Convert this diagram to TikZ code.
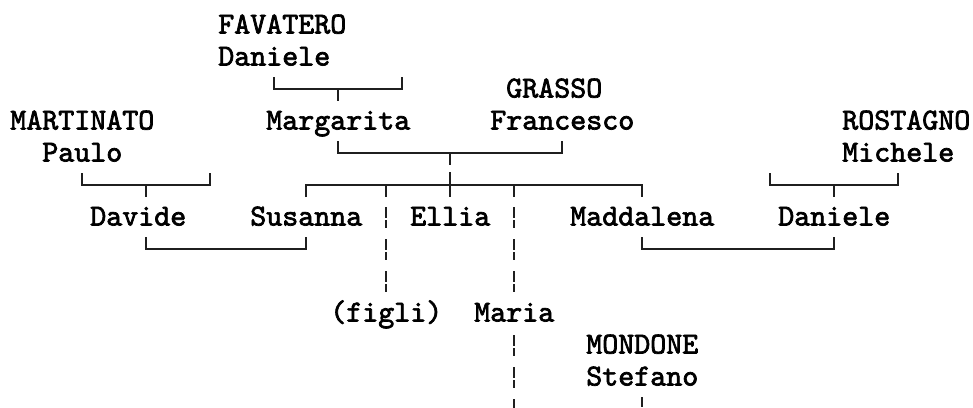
\documentclass[tikz,border=0pt]{standalone}
\usepackage{fontspec}
\newfontfamily\treefont{lmmono10-regular.otf}[FakeBold=2.3]
\begin{document}
\begin{tikzpicture}[x=0.75pt,y=-0.75pt,
  person/.style={anchor=base west, inner sep=0pt, text=black,
    font=\treefont\fontsize{22.86}{27}\selectfont},
  link/.style={line width=1.5pt, draw=black!88}]
\useasboundingbox (0,0) rectangle (973,407);
% people
\node[person] (favatero)  at (218,33.5)  {FAVATERO};
\node[person] (danieleF)  at (218,65.5)  {Daniele};
\node[person] (grasso)    at (506,97.5)  {GRASSO};
\node[person] (martinato) at (10,129.5)  {MARTINATO};
\node[person] (margarita) at (266,129.5) {Margarita};
\node[person] (francesco) at (490,129.5) {Francesco};
\node[person] (rostagno)  at (842,129.5) {ROSTAGNO};
\node[person] (paulo)     at (42,161.5)  {Paulo};
\node[person] (michele)   at (842,161.5) {Michele};
\node[person] (davide)    at (90,225.5)  {Davide};
\node[person] (susanna)   at (250,225.5) {Susanna};
\node[person] (ellia)     at (410,225.5) {Ellia};
\node[person] (maddalena) at (570,225.5) {Maddalena};
\node[person] (danieleR)  at (778,225.5) {Daniele};
\node[person] (figli)     at (330,321.5) {(figli)};
\node[person] (maria)     at (474,321.5) {Maria};
\node[person] (mondone)   at (586,353.5) {MONDONE};
\node[person] (stefano)   at (586,385.5) {Stefano};
% bracket coordinates
\coordinate (fa1) at (274,77);  \coordinate (fa2) at (402,77);
\coordinate (fam) at (338,89);  \coordinate (fac) at (338,101);
\coordinate (pa1) at (82,173);  \coordinate (pa2) at (210,173);
\coordinate (pam) at (146,185); \coordinate (pac) at (146,197);
\coordinate (mf1) at (338,141); \coordinate (mf2) at (562,141);
\coordinate (mfm) at (450,153); \coordinate (mfc) at (450,165);
\coordinate (ch1) at (306,197); \coordinate (ch4) at (642,197);
\coordinate (chm) at (450,185);
\coordinate (ch2t) at (386,185); \coordinate (ch2b) at (386,197);
\coordinate (ch3t) at (514,185); \coordinate (ch3b) at (514,197);
\coordinate (elt) at (450,172); \coordinate (elb) at (450,197);
\coordinate (ro1) at (770,173); \coordinate (ro2) at (898,173);
\coordinate (rom) at (834,185); \coordinate (roc) at (834,197);
\coordinate (ds1) at (146,237); \coordinate (ds2) at (306,237);
\coordinate (md1) at (642,237); \coordinate (md2) at (834,237);
\coordinate (stt) at (642,397); \coordinate (stb) at (642,407);
% brackets
\draw[link] (fa1) |- (fam) -| (fa2);  \draw[link] (fam) -- (fac);
\draw[link] (pa1) |- (pam) -| (pa2);  \draw[link] (pam) -- (pac);
\draw[link] (mf1) |- (mfm) -| (mf2);  \draw[link] (mfm) -- (mfc);
\draw[link] (ch1) |- (chm) -| (ch4);
\draw[link] (ch2t) -- (ch2b);
\draw[link] (ch3t) -- (ch3b);
\draw[link] (elt) -- (elb);
\draw[link] (ro1) |- (rom) -| (ro2);  \draw[link] (rom) -- (roc);
\draw[link] (ds1) -- ++(0,12) -| (ds2);
\draw[link] (md1) -- ++(0,12) -| (md2);
\draw[link] (stt) -- (stb);
% broken bars
\foreach \k in {6,7,8} {
  \draw[link] (ch2b |- 0,{8+32*\k+7}) -- (ch2b |- 0,{8+32*\k+18});
  \draw[link] (ch2b |- 0,{8+32*\k+20}) -- (ch2b |- 0,{8+32*\k+28});
}
\foreach \k in {6,7,8,10,11,12} {
  \draw[link] (ch3b |- 0,{8+32*\k+7}) -- (ch3b |- 0,{8+32*\k+18});
  \draw[link] (ch3b |- 0,{8+32*\k+20}) -- (ch3b |- 0,{8+32*\k+28});
}
\end{tikzpicture}
\end{document}
